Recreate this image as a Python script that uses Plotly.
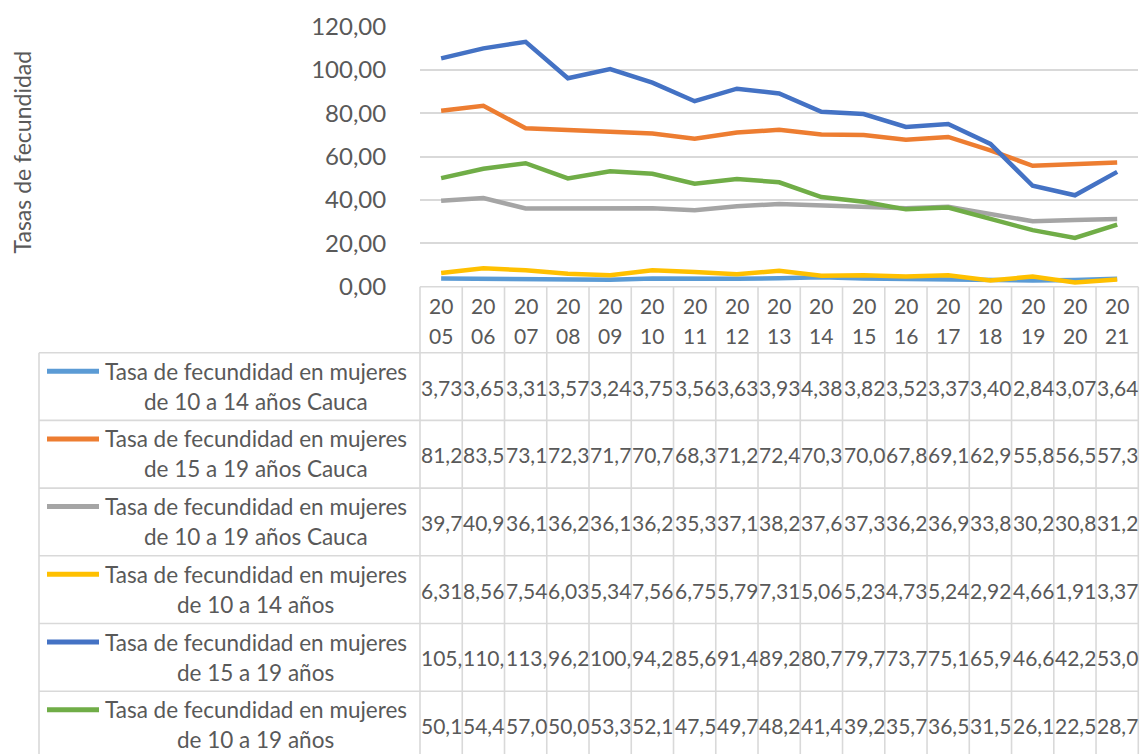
import plotly.graph_objects as go

# ---------------- data ----------------
years = [str(y) for y in range(2005, 2022)]

series_names = [
    ["Tasa de fecundidad en mujeres", "de 10 a 14 años Cauca"],
    ["Tasa de fecundidad en mujeres", "de 15 a 19 años Cauca"],
    ["Tasa de fecundidad en mujeres", "de 10 a 19 años Cauca"],
    ["Tasa de fecundidad en mujeres", "de 10 a 14 años"],
    ["Tasa de fecundidad en mujeres", "de 15 a 19 años"],
    ["Tasa de fecundidad en mujeres", "de 10 a 19 años"],
]

cauca_10_14 = [3.73, 3.65, 3.31, 3.57, 3.24, 3.75, 3.56, 3.63, 3.93, 4.38, 3.82, 3.52, 3.37, 3.40, 2.84, 3.07, 3.64]
cauca_15_19 = [81.2, 83.5, 73.1, 72.3, 71.7, 70.7, 68.3, 71.2, 72.4, 70.3, 70.0, 67.8, 69.1, 62.9, 55.8, 56.5, 57.3]
cauca_10_19 = [39.7, 40.9, 36.1, 36.2, 36.1, 36.2, 35.3, 37.1, 38.2, 37.6, 37.3, 36.2, 36.9, 33.8, 30.2, 30.8, 31.2]
nac_10_14 = [6.31, 8.56, 7.54, 6.03, 5.34, 7.56, 6.75, 5.79, 7.31, 5.06, 5.23, 4.73, 5.24, 2.92, 4.66, 1.91, 3.37]
nac_15_19 = [105.4, 110.0, 113.0, 96.2, 100.4, 94.2, 85.6, 91.4, 89.2, 80.7, 79.7, 73.7, 75.1, 65.9, 46.6, 42.2, 53.0]
nac_10_19 = [50.1, 54.4, 57.0, 50.0, 53.3, 52.1, 47.5, 49.7, 48.2, 41.4, 39.2, 35.7, 36.5, 31.5, 26.1, 22.5, 28.7]

all_series = [cauca_10_14, cauca_15_19, cauca_10_19, nac_10_14, nac_15_19, nac_10_19]
colors = ["#5B9BD5", "#ED7D31", "#A5A5A5", "#FFC000", "#4472C4", "#70AD47"]

# ---------------- layout geometry (pixels) ----------------
W, H = 1140, 754
PLOT_L, PLOT_R = 420, 1138.3
PLOT_T, PLOT_B = 26.7, 286.7
HEAD_B = 352.7
ROW_H = 67.7
LEG_L = 39
TXT = "#595959"
GRID = "#D9D9D9"
FONT = "Lato"


def px(x):
    return x / W


def py(y):
    return 1 - y / H


fig = go.Figure()
x_idx = list(range(len(years)))
for name, vals, col in zip(series_names, all_series, colors):
    fig.add_trace(go.Scatter(
        x=x_idx, y=vals, mode="lines", name=" ".join(name),
        line=dict(color=col, width=4.5), showlegend=False,
        hoverinfo="x+y",
    ))

shapes = []
# table horizontal lines
shapes.append(dict(type="line", xref="paper", yref="paper",
                   x0=px(PLOT_L), x1=px(PLOT_R), y0=py(PLOT_B), y1=py(PLOT_B),
                   line=dict(color=GRID, width=1.6)))
for r in range(len(all_series) + 1):
    y = HEAD_B + r * ROW_H
    shapes.append(dict(type="line", xref="paper", yref="paper",
                       x0=px(LEG_L), x1=px(PLOT_R), y0=py(y), y1=py(y),
                       line=dict(color=GRID, width=1.6)))
# vertical lines
ncol = len(years)
cw = (PLOT_R - PLOT_L) / ncol
for k in range(ncol + 1):
    x = PLOT_L + k * cw
    shapes.append(dict(type="line", xref="paper", yref="paper",
                       x0=px(x), x1=px(x), y0=py(PLOT_B), y1=py(H + 10),
                       line=dict(color=GRID, width=1.6)))
shapes.append(dict(type="line", xref="paper", yref="paper",
                   x0=px(LEG_L), x1=px(LEG_L), y0=py(HEAD_B), y1=py(H + 10),
                   line=dict(color=GRID, width=1.6)))

annotations = []
# year header
for i, y in enumerate(years):
    for j, part in enumerate([y[:2], y[2:]]):
        annotations.append(dict(
            xref="x", yref="paper", x=i, y=py(305 + 30 * j),
            text=part, showarrow=False, xanchor="center", yanchor="middle",
            font=dict(family=FONT, size=21, color=TXT)))

# legend keys + labels + values
for r, (name, vals, col) in enumerate(zip(series_names, all_series, colors)):
    top = HEAD_B + r * ROW_H
    l1 = top + 18.5
    l2 = top + 48.5
    shapes.append(dict(type="line", xref="paper", yref="paper",
                       x0=px(47), x1=px(99), y0=py(l1), y1=py(l1),
                       line=dict(color=col, width=5)))
    annotations.append(dict(xref="paper", yref="paper", x=px(255.5), y=py(l1),
                            text=name[0], showarrow=False, xanchor="center", yanchor="middle",
                            font=dict(family=FONT, size=22.5, color=TXT)))
    annotations.append(dict(xref="paper", yref="paper", x=px(255.5), y=py(l2),
                            text=name[1], showarrow=False, xanchor="center", yanchor="middle",
                            font=dict(family=FONT, size=22.5, color=TXT)))
    for i, v in enumerate(vals):
        txt = f"{v:.2f}".replace(".", ",")[:4]
        annotations.append(dict(
            xref="x", yref="paper", x=i - 0.5, y=py(top + ROW_H / 2 + 0.5),
            text=txt, showarrow=False, xanchor="left", yanchor="middle", xshift=-1,
            font=dict(family=FONT, size=21, color=TXT)))

# y-axis title
annotations.append(dict(xref="paper", yref="paper", x=px(21.5), y=py(152),
                        text="Tasas de fecundidad", textangle=-90, showarrow=False,
                        xanchor="center", yanchor="middle",
                        font=dict(family=FONT, size=23, color=TXT)))

fig.update_layout(
    width=W, height=H,
    margin=dict(l=0, r=0, t=0, b=0, autoexpand=False),
    paper_bgcolor="white", plot_bgcolor="white",
    separators=",.",
    font=dict(family=FONT, color=TXT),
    shapes=shapes,
    annotations=annotations,
    xaxis=dict(domain=[px(PLOT_L), px(PLOT_R)], range=[-0.5, ncol - 0.5],
               showgrid=False, zeroline=False, showticklabels=False, ticks="",
               showline=False, fixedrange=True, automargin=False),
    yaxis=dict(domain=[py(PLOT_B), py(PLOT_T)], range=[0, 120], dtick=20,
               tickformat=".2f", showgrid=True, gridcolor=GRID, gridwidth=1.6,
               zeroline=False, showline=False, automargin=False,
               ticks="outside", ticklen=28, tickcolor="rgba(0,0,0,0)",
               tickfont=dict(family=FONT, size=24, color=TXT), fixedrange=True),
)

fig.write_html(
    "out.html",
    config={"displayModeBar": False},
    post_script="document.body.style.margin='0';document.body.style.overflow='hidden';",
)
